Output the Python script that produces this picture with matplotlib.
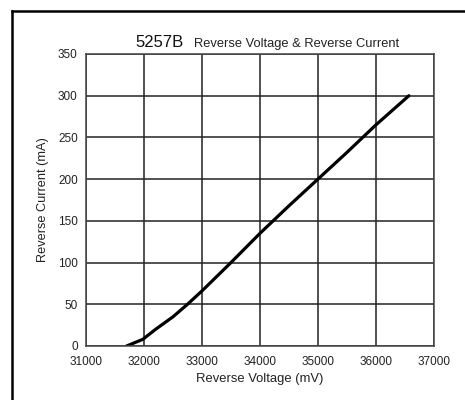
import numpy as np
import matplotlib
matplotlib.use('Agg')
import matplotlib.pyplot as plt
from matplotlib.lines import Line2D

plt.rcParams['font.family'] = ['Liberation Sans', 'DejaVu Sans']

# reverse voltage (mV) vs reverse current (mA)
voltage = [31700, 31980, 32200, 32500, 32750, 33000, 33500, 34000,
           34500, 35000, 35500, 36000, 36570]
current = [0, 8, 20, 35, 50, 66, 100, 135, 168, 200, 232, 265, 300]

x_ticks = [31000, 32000, 33000, 34000, 35000, 36000, 37000]
y_ticks = [0, 50, 100, 150, 200, 250, 300, 350]

fig = plt.figure(figsize=(4.65, 4.0), dpi=100)
ax = fig.add_axes([0.185, 0.135, 0.748, 0.73])

ax.plot(voltage, current, color='black', linewidth=2.3, solid_capstyle='round')

ax.set_xlim(31000, 37000)
ax.set_ylim(0, 350)
ax.set_xticks(x_ticks)
ax.set_yticks(y_ticks)
ax.grid(True, color='#222222', linewidth=1.1)
ax.tick_params(length=0, labelsize=8.5, colors='#222222', pad=6)
ax.tick_params(axis='x', pad=7)
for sp in ax.spines.values():
    sp.set_color('#444444')
    sp.set_linewidth(1.1)

ax.set_xlabel('Reverse Voltage (mV)', fontsize=9.4, color='#222222', labelpad=4)
ax.set_ylabel('Reverse Current (mA)', fontsize=9.2, color='#222222', labelpad=6)

# two-size title
fig.text(0.292, 0.882, '5257B', fontsize=12, color='#111111', ha='left', va='baseline')
fig.text(0.417, 0.882, 'Reverse Voltage & Reverse Current', fontsize=9.3,
         color='#222222', ha='left', va='baseline')

# outer frame (left and top edges)
fig.add_artist(Line2D([0.025, 0.025], [0.0, 0.972], transform=fig.transFigure,
                      color='black', linewidth=1.8))
fig.add_artist(Line2D([0.025, 1.0], [0.972, 0.972], transform=fig.transFigure,
                      color='black', linewidth=1.8))

fig.savefig('out.png', dpi=100)
